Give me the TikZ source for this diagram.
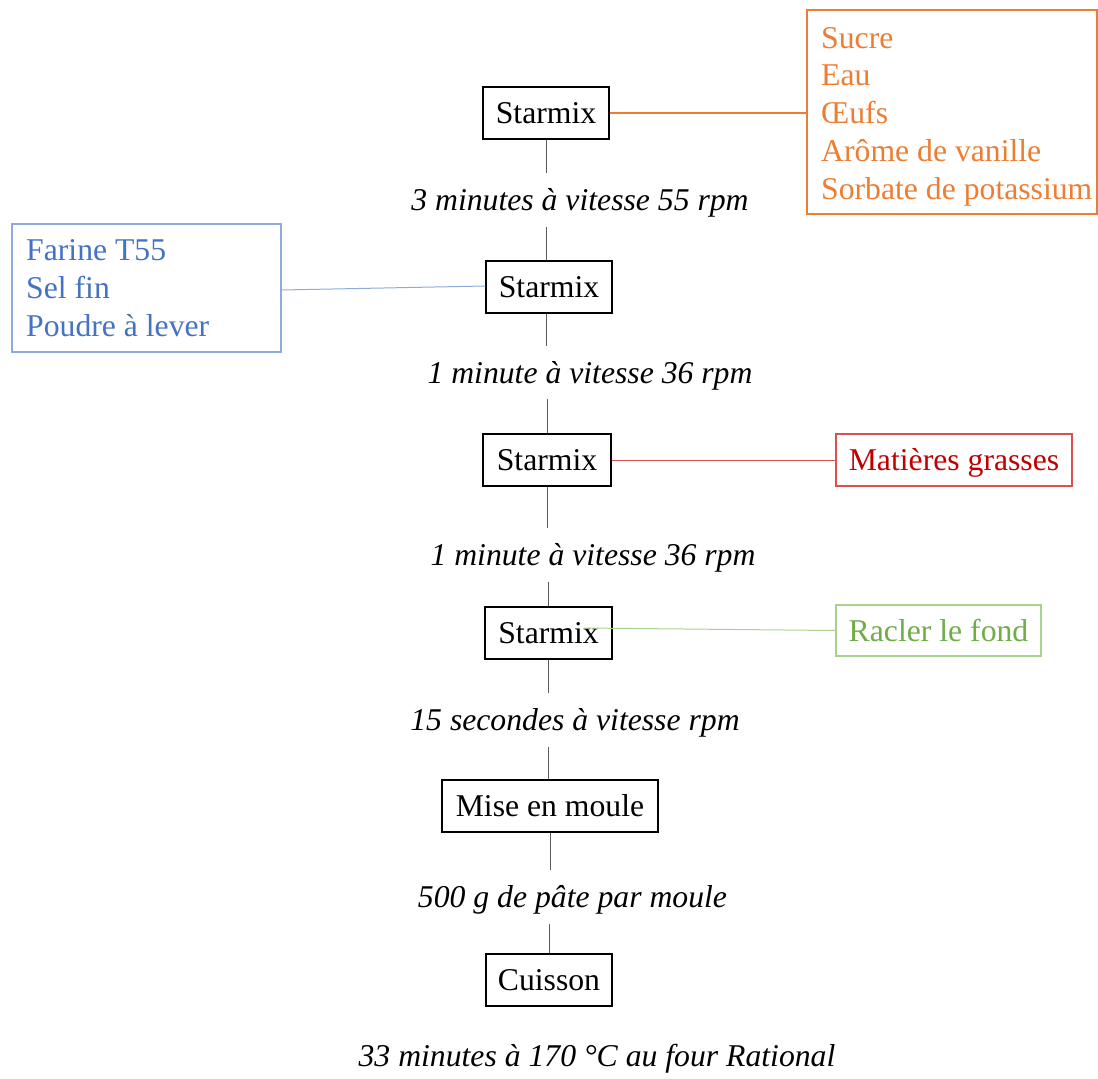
\documentclass[tikz,border=0pt]{standalone}
\usepackage{fontspec}
\setmainfont{Liberation Serif}
\definecolor{orangeC}{RGB}{237,125,49}
\definecolor{blueT}{RGB}{68,114,196}
\definecolor{blueB}{RGB}{143,170,220}
\definecolor{redT}{RGB}{192,0,0}
\definecolor{redB}{RGB}{220,80,80}
\definecolor{greenT}{RGB}{112,173,71}
\definecolor{greenB}{RGB}{169,209,142}
\definecolor{conn}{RGB}{90,90,90}
\begin{document}
\begin{tikzpicture}[x=1pt,y=-1pt,
  every node/.style={font=\fontsize{31.7}{38}\selectfont},
  stepbox/.style={draw=black,line width=1.1pt,inner sep=0pt,minimum height=52pt,text height=21pt,text depth=0pt},
  sidebox/.style={line width=1.1pt,inner sep=0pt},
  lab/.style={font=\fontsize{31.7}{38}\selectfont\itshape,inner xsep=0pt,inner ysep=16pt,text height=21pt,text depth=0pt},
  item/.style={anchor=west,inner sep=0pt,text height=21pt,text depth=0pt},
  link/.style={draw=conn,line width=1pt}]
\useasboundingbox (0,0) rectangle (1098,1079);

% main chain
\node[stepbox,minimum width=126pt] (s1) at (546,113) {Starmix};
\node[stepbox,minimum width=126pt] (s2) at (549,287) {Starmix};
\node[stepbox,minimum width=128pt] (s3) at (547,460) {Starmix};
\node[stepbox,minimum width=127pt] (s4) at (548.5,633) {Starmix};
\node[stepbox,minimum width=216pt] (mise) at (550,806) {Mise en moule};
\node[stepbox,minimum width=126pt] (cuis) at (549,980) {Cuisson};

\node[lab] (l1) at (580,200) {3 minutes à vitesse 55 rpm};
\node[lab] (l2) at (590,372.5) {1 minute à vitesse 36 rpm};
\node[lab] (l3) at (593,555) {1 minute à vitesse 36 rpm};
\node[lab] (l4) at (575,720) {15 secondes à vitesse rpm};
\node[lab] (l5) at (572.5,897) {500 g de pâte par moule};
\node[lab] (l6) at (597,1056) {33 minutes à 170 °C au four Rational};

\draw[link] (s1.south) -- (s1.south |- l1.north);
\draw[link] (l1.south -| s1.south) -- (s1.south |- s2.north);
\draw[link] (s2.south -| s1.south) -- (s1.south |- l2.north);
\draw[link] (l2.south -| s3.north) -- (s3.north);
\draw[link] (s3.south) -- (s3.south |- l3.north);
\draw[link] (l3.south -| s4.north) -- (s4.north);
\draw[link] (s4.south) -- (s4.south |- l4.north);
\draw[link] (l4.south -| s4.south) -- (s4.south |- mise.north);
\draw[link] (mise.south) -- (mise.south |- l5.north);
\draw[link] (l5.south -| cuis.north) -- (cuis.north);

% orange ingredients
\node[sidebox,draw=orangeC,minimum width=290pt,minimum height=204pt] (ora) at (952,112) {};
\node[item,text=orangeC] (o1) at (821,38) {Sucre};
\node[item,text=orangeC] (o2) at (821,75) {Eau};
\node[item,text=orangeC] (o3) at (821,113) {Œufs};
\node[item,text=orangeC] (o4) at (821,151) {Arôme de vanille};
\node[item,text=orangeC] (o5) at (821,189) {Sorbate de potassium};
\draw[draw=orangeC,line width=1.2pt] (s1.east) -- (s1.east -| ora.west);

% blue ingredients
\node[sidebox,draw=blueB,minimum width=269pt,minimum height=128pt] (blu) at (146.5,288) {};
\node[item,text=blueT] (b1) at (26,250) {Farine T55};
\node[item,text=blueT] (b2) at (26,288) {Sel fin};
\node[item,text=blueT] (b3) at (26,326) {Poudre à lever};
\draw[draw=blueB,line width=1pt] ([yshift=-2pt]blu.east) -- ([yshift=1pt]s2.west);

% red
\node[sidebox,draw=redB,text=redT,minimum width=236pt,minimum height=52pt,text height=21pt,text depth=0pt] (red) at (954,460) {Matières grasses};
\draw[draw=redB,line width=1pt] (s3.east) -- (red.west);

% green
\node[sidebox,draw=greenB,text=greenT,minimum width=205pt,minimum height=51pt,text height=21pt,text depth=0pt] (grn) at (938.5,630.5) {Racler le fond};
\coordinate (gstart) at ([xshift=-29pt,yshift=5pt]s4.east);
\draw[draw=greenB,line width=1pt] (gstart) -- (grn.west);
\end{tikzpicture}
\end{document}
